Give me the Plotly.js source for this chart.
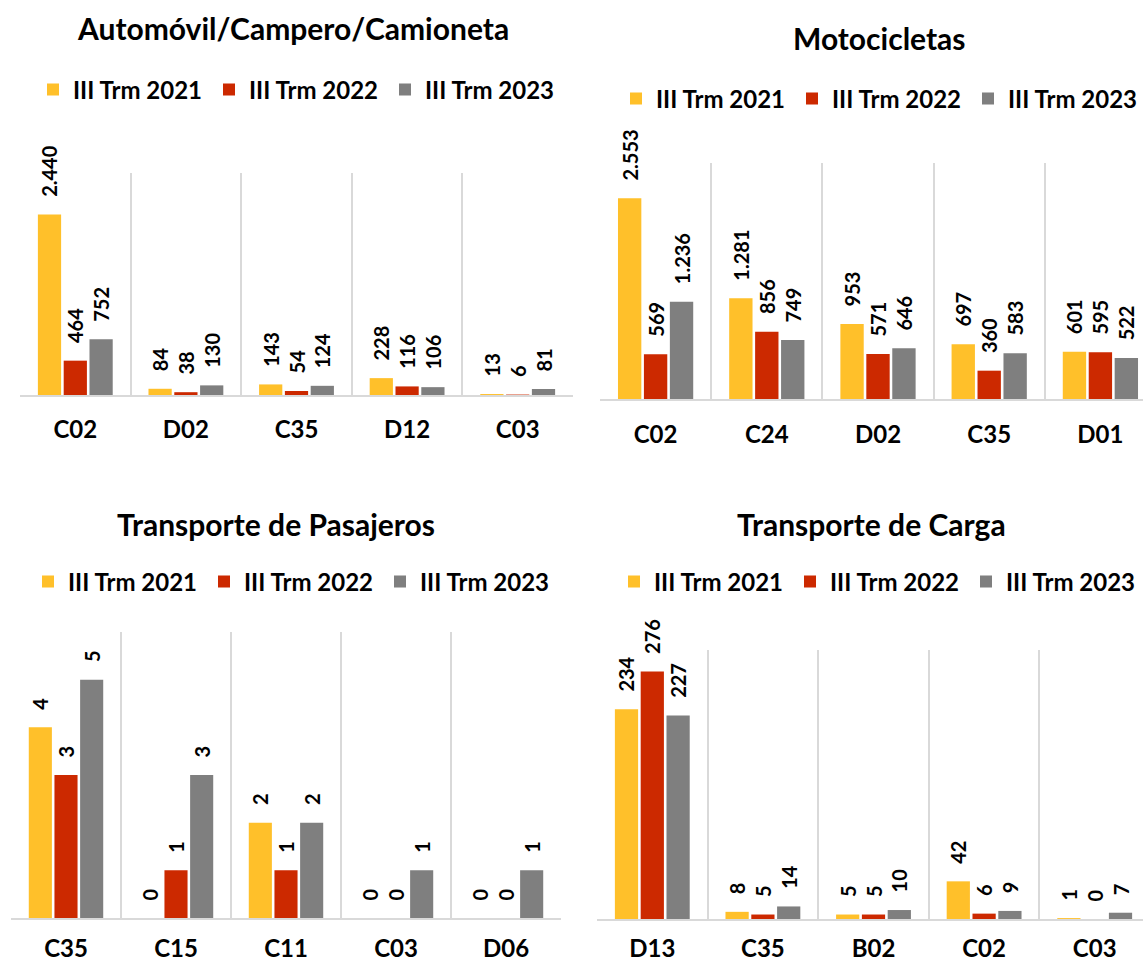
<!DOCTYPE html>
<html>
<head>
<meta charset="utf-8">
<script src="https://cdn.plot.ly/plotly-3.0.1.min.js"></script>
<style>
html,body{margin:0;padding:0;overflow:hidden;background:#fff;}
#chart{width:1160px;height:962px;}
</style>
</head>
<body>
<div id="chart"></div>
<script>
// ---- data ----
const seriesNames = ["III Trm 2021", "III Trm 2022", "III Trm 2023"];
const seriesColors = ["#FFC02A", "#CC2900", "#7F7F7F"];

const autoTitle = "Automóvil/Campero/Camioneta";
const autoCats = ["C02", "D02", "C35", "D12", "C03"];
const auto2021 = [2440, 84, 143, 228, 13];
const auto2022 = [464, 38, 54, 116, 6];
const auto2023 = [752, 130, 124, 106, 81];

const motoTitle = "Motocicletas";
const motoCats = ["C02", "C24", "D02", "C35", "D01"];
const moto2021 = [2553, 1281, 953, 697, 601];
const moto2022 = [569, 856, 571, 360, 595];
const moto2023 = [1236, 749, 646, 583, 522];

const pasTitle = "Transporte de Pasajeros";
const pasCats = ["C35", "C15", "C11", "C03", "D06"];
const pas2021 = [4, 0, 2, 0, 0];
const pas2022 = [3, 1, 1, 0, 0];
const pas2023 = [5, 3, 2, 1, 1];

const cargaTitle = "Transporte de Carga";
const cargaCats = ["D13", "C35", "B02", "C02", "C03"];
const carga2021 = [234, 8, 5, 42, 1];
const carga2022 = [276, 5, 5, 6, 0];
const carga2023 = [227, 14, 10, 9, 7];

// ---- layout (pixel geometry) ----
const W = 1160, H = 962;
const FONT = "Lato, 'Open Sans', sans-serif";
const panels = [
  {title: autoTitle, cats: autoCats, vals: [auto2021, auto2022, auto2023], ymax: 3000,
   px: [20, 573], py: [173, 395], titlePos: [293, 28], legendLeft: 47, legendY: 90, standoff: 12},
  {title: motoTitle, cats: motoCats, vals: [moto2021, moto2022, moto2023], ymax: 3000,
   px: [600, 1156], py: [163, 399], titlePos: [879, 38], legendLeft: 630, legendY: 99, standoff: 13},
  {title: pasTitle, cats: pasCats, vals: [pas2021, pas2022, pas2023], ymax: 6,
   px: [11, 561], py: [632, 918], titlePos: [276, 524], legendLeft: 42, legendY: 582, standoff: 8},
  {title: cargaTitle, cats: cargaCats, vals: [carga2021, carga2022, carga2023], ymax: 300,
   px: [597, 1150], py: [650, 919], titlePos: [872, 524], legendLeft: 628, legendY: 582, standoff: 7}
];

const data = [];
const layout = {
  width: W, height: H,
  margin: {l: 0, r: 0, t: 0, b: 0},
  paper_bgcolor: "#ffffff", plot_bgcolor: "#ffffff",
  barmode: "group", bargap: 0.30, bargroupgap: 0.10,
  separators: ",.",
  showlegend: true,
  font: {family: FONT, color: "#000000"},
  annotations: []
};

panels.forEach((p, i) => {
  const n = i + 1;
  const sfx = (n === 1 ? "" : String(n));
  const lg = "legend" + sfx;
  p.vals.forEach((v, s) => {
    data.push({
      type: "bar", x: p.cats, y: v, name: seriesNames[s],
      xaxis: "x" + sfx, yaxis: "y" + sfx,
      legend: lg,
      marker: {color: seriesColors[s], line: {width: 0}},
      texttemplate: "\u00a0\u00a0\u00a0%{y:,}",
      textposition: "outside", textangle: -90,
      constraintext: "none", cliponaxis: false,
      textfont: {family: FONT, size: 20, color: "#000000", weight: 700},
      hoverinfo: "skip"
    });
  });
  layout["xaxis" + sfx] = {
    domain: [p.px[0] / W, p.px[1] / W], anchor: "y" + sfx,
    type: "category", tickson: "boundaries",
    showgrid: true, gridcolor: "#D9D9D9", gridwidth: 2,
    showline: true, linecolor: "#D9D9D9", linewidth: 2,
    ticks: "", ticklabelstandoff: p.standoff,
    tickfont: {family: FONT, size: 24, color: "#000000", weight: 700},
    zeroline: false, fixedrange: true
  };
  layout["yaxis" + sfx] = {
    domain: [1 - p.py[1] / H, 1 - p.py[0] / H], anchor: "x" + sfx,
    range: [0, p.ymax], visible: false, showgrid: false, zeroline: false, fixedrange: true
  };
  layout[lg] = {
    orientation: "h", x: (p.legendLeft - 14) / W, y: 1 - p.legendY / H,
    xanchor: "left", yanchor: "middle",
    font: {family: FONT, size: 24, color: "#000000", weight: 700},
    bgcolor: "rgba(0,0,0,0)", itemclick: false, itemdoubleclick: false,
    entrywidth: 131, entrywidthmode: "pixels", traceorder: "normal"
  };
  layout.annotations.push({
    text: p.title, xref: "paper", yref: "paper",
    x: p.titlePos[0] / W, y: 1 - p.titlePos[1] / H,
    xanchor: "center", yanchor: "middle", showarrow: false,
    font: {family: FONT, size: 30, color: "#000000", weight: 700}
  });
});

Plotly.newPlot("chart", data, layout, {staticPlot: true, displayModeBar: false});
</script>
</body>
</html>
